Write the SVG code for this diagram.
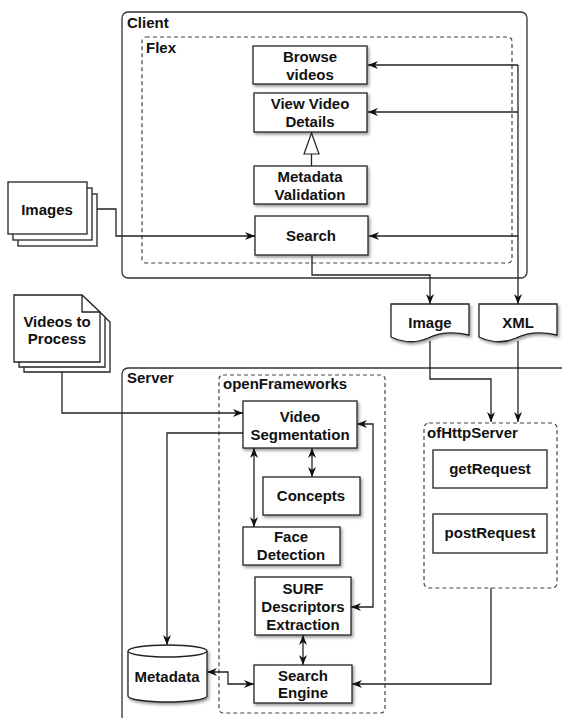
<svg xmlns="http://www.w3.org/2000/svg" width="562" height="718" viewBox="0 0 562 718">
<defs>
<style>
text{font-family:"Liberation Sans",Arial,sans-serif;font-weight:bold;font-size:15px;fill:#111;}
.c{text-anchor:middle;}
.box{fill:#fff;stroke:#222;stroke-width:1.3;}
.sh{filter:url(#shadow);}
.cont{fill:none;stroke:#333;stroke-width:1.3;}
.dash{fill:none;stroke:#444;stroke-width:1.2;stroke-dasharray:4,3;}
.ln{fill:none;stroke:#222;stroke-width:1.3;}
</style>
<filter id="shadow" x="-10%" y="-10%" width="130%" height="140%">
<feDropShadow dx="1.5" dy="2" stdDeviation="1.5" flood-color="#000" flood-opacity="0.4"/>
</filter>
<marker id="ah" viewBox="0 0 10 8" refX="10" refY="4" markerWidth="10" markerHeight="8" orient="auto-start-reverse" markerUnits="userSpaceOnUse">
<path d="M0,0 L10,4 L0,8 L3,4 Z" fill="#111"/>
</marker>
</defs>

<g id="client">
<rect class="cont" x="122" y="12" width="405" height="266" rx="6"/>
<text x="127" y="28">Client</text>
</g>
<g id="flex">
<rect class="dash" x="142" y="37" width="370" height="226" rx="4"/>
<text x="146" y="53">Flex</text>
</g>
<g id="server">
<rect class="cont" x="122" y="368" width="460" height="370" rx="6"/>
<text x="127" y="383">Server</text>
</g>
<g id="openframeworks">
<rect class="dash" x="219" y="375" width="166" height="338" rx="4"/>
<text x="223" y="389">openFrameworks</text>
</g>
<g id="ofhttpserver">
<rect class="dash" x="424" y="423" width="133" height="165" rx="5"/>
<text x="427" y="438">ofHttpServer</text>
</g>

<g id="browse-videos">
<rect class="box sh" x="253" y="46" width="114" height="38"/>
<text class="c" x="310" y="62">Browse</text>
<text class="c" x="310" y="80">videos</text>
</g>
<g id="view-video-details">
<rect class="box sh" x="254" y="93" width="113" height="39"/>
<text class="c" x="310" y="109">View Video</text>
<text class="c" x="310" y="127">Details</text>
</g>
<g id="metadata-validation">
<rect class="box sh" x="254" y="166" width="113" height="38"/>
<text class="c" x="310" y="182">Metadata</text>
<text class="c" x="310" y="200">Validation</text>
</g>
<g id="search">
<rect class="box sh" x="255" y="216" width="113" height="39"/>
<text class="c" x="311" y="241">Search</text>
</g>

<g id="images">
<rect class="box" x="18" y="194" width="79" height="52"/>
<rect class="box" x="13" y="188" width="79" height="52"/>
<rect class="box" x="8" y="182" width="79" height="52"/>
<text class="c" x="47" y="215">Images</text>
</g>

<g id="videos-to-process">
<path class="box" d="M24,305 H92 L110,322 V372 H24 Z"/>
<path class="box" d="M19,300 H87 L105,317 V367 H19 Z"/>
<path class="box" d="M14,295 H82 L100,312 V362 H14 Z"/>
<path class="ln" d="M82,295 V312 H100"/>
<text class="c" x="57" y="327">Videos to</text>
<text class="c" x="57" y="344">Process</text>
</g>

<g id="image-doc">
<path class="box sh" d="M391,304 H469 V335 C452,331 438,333 428,338 C415,344 402,342 391,337 Z"/>
<text class="c" x="430" y="328">Image</text>
</g>
<g id="xml-doc">
<path class="box sh" d="M479,304 H557 V335 C540,331 526,333 516,338 C503,344 490,342 479,337 Z"/>
<text class="c" x="518" y="328">XML</text>
</g>

<g id="video-segmentation">
<rect class="box sh" x="243" y="401" width="114" height="47"/>
<text class="c" x="300" y="422">Video</text>
<text class="c" x="300" y="440">Segmentation</text>
</g>
<g id="concepts">
<rect class="box sh" x="263" y="477" width="97" height="38"/>
<text class="c" x="311" y="501">Concepts</text>
</g>
<g id="face-detection">
<rect class="box sh" x="243" y="527" width="97" height="38"/>
<text class="c" x="291" y="542">Face</text>
<text class="c" x="291" y="560">Detection</text>
</g>
<g id="surf">
<rect class="box sh" x="255" y="577" width="96" height="58"/>
<text class="c" x="303" y="594">SURF</text>
<text class="c" x="303" y="612">Descriptors</text>
<text class="c" x="303" y="630">Extraction</text>
</g>
<g id="search-engine">
<rect class="box sh" x="254" y="665" width="98" height="38"/>
<text class="c" x="303" y="681">Search</text>
<text class="c" x="303" y="698">Engine</text>
</g>
<g id="metadata">
<path class="box sh" d="M128,651 V696 A39.5,6 0 0 0 207,696 V651 A39.5,6 0 0 0 128,651 Z"/>
<path class="ln" d="M128,651 A39.5,6 0 0 0 207,651"/>
<text class="c" x="167" y="682">Metadata</text>
</g>
<g id="getrequest">
<rect class="box" x="433" y="450" width="114" height="38"/>
<text class="c" x="490" y="474">getRequest</text>
</g>
<g id="postrequest">
<rect class="box" x="433" y="514" width="114" height="39"/>
<text class="c" x="490" y="538">postRequest</text>
</g>

<g id="connectors">
<path class="ln" d="M518,65 V304" marker-end="url(#ah)"/>
<path class="ln" d="M518,65 H368" marker-end="url(#ah)"/>
<path class="ln" d="M518,112 H368" marker-end="url(#ah)"/>
<path class="ln" d="M518,236 H369" marker-end="url(#ah)"/>
<path class="ln" d="M311.5,166 V154"/>
<path d="M311.5,133 L319,154 H304 Z" fill="#fff" stroke="#222" stroke-width="1.2"/>
<path class="ln" d="M97,209 H116 V236 H255" marker-end="url(#ah)"/>
<path class="ln" d="M312,255 V275 H430 V304" marker-end="url(#ah)"/>
<path class="ln" d="M430,341 V379 H491 V422" marker-end="url(#ah)"/>
<path class="ln" d="M518,341 V422" marker-end="url(#ah)"/>
<path class="ln" d="M62,372 V413 H243" marker-end="url(#ah)"/>
<path class="ln" d="M243,433 H167 V645" marker-end="url(#ah)"/>
<path class="ln" d="M312,448 V477" marker-start="url(#ah)" marker-end="url(#ah)"/>
<path class="ln" d="M254,448 V527" marker-start="url(#ah)" marker-end="url(#ah)"/>
<path class="ln" d="M357,424 H373 V607 H351" marker-start="url(#ah)" marker-end="url(#ah)"/>
<path class="ln" d="M303,635 V665" marker-start="url(#ah)" marker-end="url(#ah)"/>
<path class="ln" d="M207,672 H228 V684 H254" marker-start="url(#ah)" marker-end="url(#ah)"/>
<path class="ln" d="M491,588 V684 H352" marker-end="url(#ah)"/>
</g>
</svg>
